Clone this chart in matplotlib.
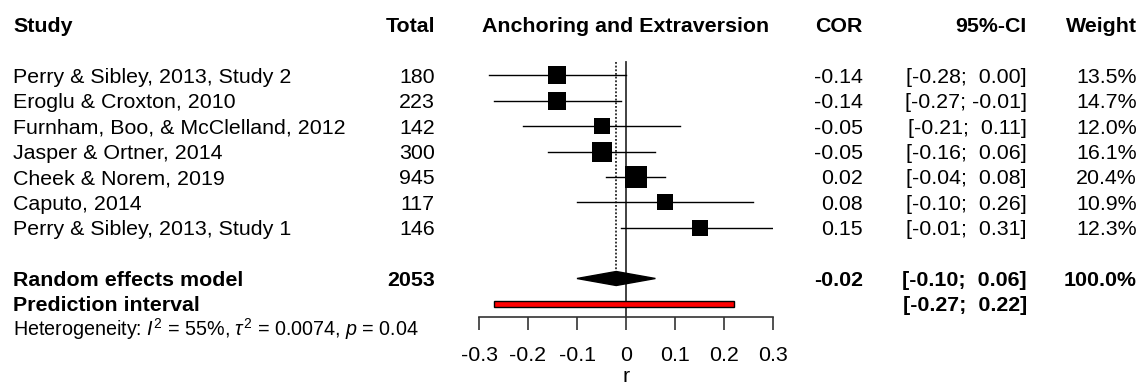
import numpy as np
import matplotlib.pyplot as plt
from matplotlib.patches import Polygon, Rectangle
from matplotlib.transforms import blended_transform_factory

plt.rcParams['font.family'] = ['Liberation Sans', 'DejaVu Sans']
plt.rcParams['mathtext.fontset'] = 'custom'
plt.rcParams['mathtext.rm'] = 'Liberation Sans'
plt.rcParams['mathtext.it'] = 'Liberation Sans:italic'

# study level data
studies = ["Perry & Sibley, 2013, Study 2", "Eroglu & Croxton, 2010",
           "Furnham, Boo, & McClelland, 2012", "Jasper & Ortner, 2014",
           "Cheek & Norem, 2019", "Caputo, 2014", "Perry & Sibley, 2013, Study 1"]
totals = [180, 223, 142, 300, 945, 117, 146]
cor = [-0.14, -0.14, -0.05, -0.05, 0.02, 0.08, 0.15]
ci_lo = [-0.28, -0.27, -0.21, -0.16, -0.04, -0.10, -0.01]
ci_hi = [0.00, -0.01, 0.11, 0.06, 0.08, 0.26, 0.31]
weights = [13.5, 14.7, 12.0, 16.1, 20.4, 10.9, 12.3]

# pooled results
re_total = 2053
re_est, re_lo, re_hi = -0.02, -0.10, 0.06
pi_lo, pi_hi = -0.27, 0.22
het_text = r"Heterogeneity: $\mathit{I}^2$ = 55%, $\tau^2$ = 0.0074, $\mathit{p}$ = 0.04"

ticks = [-0.3, -0.2, -0.1, 0, 0.1, 0.2, 0.3]
tick_labels = ["-0.3", "-0.2", "-0.1", "0", "0.1", "0.2", "0.3"]

W, H = 1143, 387
fig = plt.figure(figsize=(W / 100, H / 100), dpi=100)
# pixel y = 24.5 + 25.4 * row
y0, dy = 24.5, 25.4
ax = fig.add_axes([479 / W, 0, 294 / W, 1])
ax.set_xlim(-0.3, 0.3)
ax.set_ylim((H - y0) / dy, -y0 / dy)
ax.patch.set_visible(False)

fs = 15.4
base = 7.4 / dy
trans = blended_transform_factory(fig.transFigure, ax.transData)


def col_text(xpix, row, s, ha, bold=False, size=fs):
    ax.text(xpix / W, row + base, s, transform=trans, ha=ha, va='baseline',
            fontsize=size, fontweight='bold' if bold else 'normal', clip_on=False)


# header
col_text(13, 0, "Study", 'left', True)
col_text(435, 0, "Total", 'right', True)
ax.text(0, base, "Anchoring and Extraversion", ha='center', va='baseline',
        fontsize=fs, fontweight='bold')
col_text(863, 0, "COR", 'right', True)
col_text(1027, 0, "95%-CI", 'right', True)
col_text(1137, 0, "Weight", 'right', True)

rows = np.arange(2, 2 + len(studies))
axis_row = (317 - y0) / dy

# reference lines
ax.plot([0, 0], [1.48, axis_row], color='#333333', lw=1.3, zorder=1)
diamond_h = 7 / dy
ax.plot([re_est, re_est], [1.48, 10 - diamond_h], color='black', lw=1.1,
        ls=(0, (1.2, 1.2)), zorder=1)

# individual studies
for r, name, n, c, lo, hi, w in zip(rows, studies, totals, cor, ci_lo, ci_hi, weights):
    ax.plot([lo, hi], [r, r], color='black', lw=1.0, zorder=2)
    side = 4.75 * np.sqrt(w) * 72 / 100
    ax.plot([c], [r], marker='s', ms=side, color='black', mec='black', mew=0, zorder=3)
    col_text(13, r, name, 'left')
    col_text(435, r, str(n), 'right')
    col_text(863, r, f"{c:.2f}", 'right')
    col_text(1027, r, f"[{lo:.2f}; {hi:5.2f}]", 'right')
    col_text(1137, r, f"{w:.1f}%", 'right')

# random effects model
ax.add_patch(Polygon([(re_lo, 10), (re_est, 10 - diamond_h), (re_hi, 10),
                      (re_est, 10 + diamond_h)], closed=True, color='black', zorder=3))
col_text(13, 10, "Random effects model", 'left', True)
col_text(435, 10, str(re_total), 'right', True)
col_text(863, 10, f"{re_est:.2f}", 'right', True)
col_text(1027, 10, f"[{re_lo:.2f}; {re_hi:5.2f}]", 'right', True)
col_text(1137, 10, "100.0%", 'right', True)

# prediction interval
ph = 2.6 / dy
ax.add_patch(Rectangle((pi_lo, 11 - ph), pi_hi - pi_lo, 2 * ph, facecolor='red',
                       edgecolor='black', lw=1.0, zorder=3))
col_text(13, 11, "Prediction interval", 'left', True)
col_text(1027, 11, f"[{pi_lo:.2f}; {pi_hi:5.2f}]", 'right', True)

col_text(13, 11.95, het_text, 'left', size=14.2)

# x axis
for s in ['top', 'left', 'right']:
    ax.spines[s].set_visible(False)
ax.spines['bottom'].set_position(('data', axis_row))
ax.spines['bottom'].set_bounds(-0.3, 0.3)
ax.spines['bottom'].set_color('#333333')
ax.spines['bottom'].set_linewidth(1.2)
ax.set_yticks([])
ax.set_xticks(ticks)
ax.set_xticklabels(tick_labels, fontsize=fs)
ax.tick_params(axis='x', direction='out', length=9, width=1.2, color='#333333', pad=12)
ax.set_xlabel("r", fontsize=fs, labelpad=1)

fig.savefig("out.png", dpi=100)
